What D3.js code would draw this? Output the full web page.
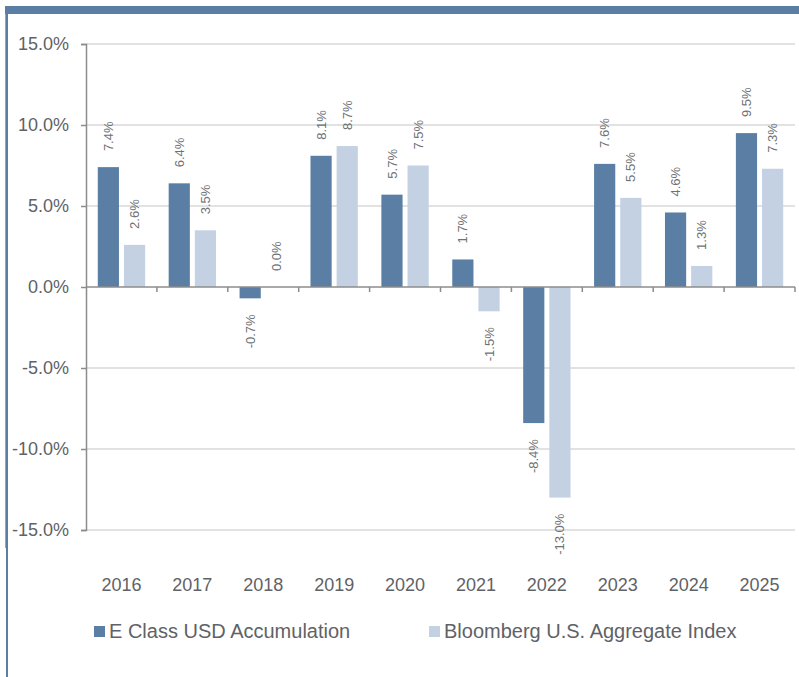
<!DOCTYPE html>
<html>
<head>
<meta charset="utf-8">
<script src="https://cdn.jsdelivr.net/npm/d3@7"></script>
<style>
  html, body { margin: 0; padding: 0; background: #ffffff; }
  svg { display: block; font-family: "Liberation Sans", Arial, sans-serif; }
</style>
</head>
<body>
<svg id="chart" width="799" height="677"></svg>
<script>
const years = ["2016","2017","2018","2019","2020","2021","2022","2023","2024","2025"];
const seriesNames = ["E Class USD Accumulation", "Bloomberg U.S. Aggregate Index"];
const fundValues = [7.4, 6.4, -0.7, 8.1, 5.7, 1.7, -8.4, 7.6, 4.6, 9.5];
const indexValues = [2.6, 3.5, 0.0, 8.7, 7.5, -1.5, -13.0, 5.5, 1.3, 7.3];
const yTicks = [-15, -10, -5, 0, 5, 10, 15];
const colors = ["#5b7fa4", "#c4d1e3"];

(function () {
const svg = d3.select("#chart");
const W = 799, H = 677;
const mLeft = 86, mRight = 795, mTop = 44, mBottom = 530;
const textColor = "#5f6266";
const axisColor = "#8c8c8c";
const gridColor = "#d9d9d9";
const pct = d => d.toFixed(1) + "%";

// Frame: top band and left line
svg.append("rect").attr("x", 5).attr("y", 6).attr("width", W - 5).attr("height", 8).attr("fill", "#5b7fa4");
svg.append("line").attr("x1", 5.5).attr("x2", 5.5).attr("y1", 14).attr("y2", 548)
  .attr("stroke", "#9aa3ad").attr("stroke-width", 1);
svg.append("rect").attr("x", 6).attr("y", 6).attr("width", 2).attr("height", H - 6).attr("fill", "#5b7fa4");

const x0 = d3.scaleBand().domain(years).range([mLeft, mRight]).paddingInner(0).paddingOuter(0);
const x1 = d3.scaleBand().domain([0, 1]).range([0, x0.bandwidth()]).paddingInner(0.19).paddingOuter(0.45);
const y = d3.scaleLinear().domain([-15, 15]).range([mBottom, mTop]);

// gridlines
svg.append("g").selectAll("line").data(yTicks.filter(d => d !== 0)).join("line")
  .attr("x1", mLeft).attr("x2", mRight)
  .attr("y1", d => y(d)).attr("y2", d => y(d))
  .attr("stroke", gridColor).attr("stroke-width", 1.5);

// y axis
const yAxis = d3.axisLeft(y).tickValues(yTicks).tickSize(5).tickPadding(12).tickFormat(pct);
const gy = svg.append("g").attr("transform", `translate(${mLeft},0)`).call(yAxis);
gy.select(".domain").attr("stroke", axisColor).attr("stroke-width", 1.5);
gy.selectAll(".tick line").attr("stroke", axisColor).attr("stroke-width", 1.5);
gy.selectAll(".tick text").attr("fill", textColor).attr("font-size", 18)
  .attr("font-family", "\"Liberation Sans\", Arial, sans-serif");

// bars
const data = [fundValues, indexValues];
data.forEach((vals, si) => {
  svg.append("g").selectAll("rect").data(vals).join("rect")
    .attr("x", (d, i) => x0(years[i]) + x1(si))
    .attr("width", x1.bandwidth())
    .attr("y", d => y(Math.max(0, d)))
    .attr("height", d => Math.abs(y(d) - y(0)))
    .attr("fill", colors[si]);
});

// zero axis line with category ticks
svg.append("line").attr("x1", mLeft).attr("x2", mRight).attr("y1", y(0)).attr("y2", y(0))
  .attr("stroke", axisColor).attr("stroke-width", 1.5);
const boundaries = years.map(yr => x0(yr) + x0.bandwidth());
svg.append("g").selectAll("line").data(boundaries).join("line")
  .attr("x1", d => d).attr("x2", d => d)
  .attr("y1", y(0)).attr("y2", y(0) + 5)
  .attr("stroke", axisColor).attr("stroke-width", 1.5);

// x labels
svg.append("g").selectAll("text").data(years).join("text")
  .attr("x", d => x0(d) + x0.bandwidth() / 2)
  .attr("y", 591)
  .attr("text-anchor", "middle")
  .attr("font-size", 18)
  .attr("fill", textColor)
  .text(d => d);

// data labels
const gap = 16;
data.forEach((vals, si) => {
  svg.append("g").selectAll("text").data(vals).join("text")
    .attr("transform", (d, i) => {
      const cx = x0(years[i]) + x1(si) + x1.bandwidth() / 2;
      const yy = d >= 0 ? y(d) - gap : y(d) + gap;
      return `translate(${cx},${yy}) rotate(-90)`;
    })
    .attr("dy", "0.35em")
    .attr("text-anchor", d => d >= 0 ? "start" : "end")
    .attr("font-size", 13)
    .attr("fill", "#6e7175")
    .text(pct);
});

// legend
const legendItems = [{x: 94, name: seriesNames[0], c: colors[0]}, {x: 429, name: seriesNames[1], c: colors[1]}];
const lg = svg.append("g");
legendItems.forEach(it => {
  lg.append("rect").attr("x", it.x).attr("y", 626).attr("width", 11).attr("height", 11).attr("fill", it.c);
  lg.append("text").attr("x", it.x + 15).attr("y", 638).attr("font-size", 20).attr("fill", textColor).text(it.name);
});
})();
</script>
</body>
</html>
